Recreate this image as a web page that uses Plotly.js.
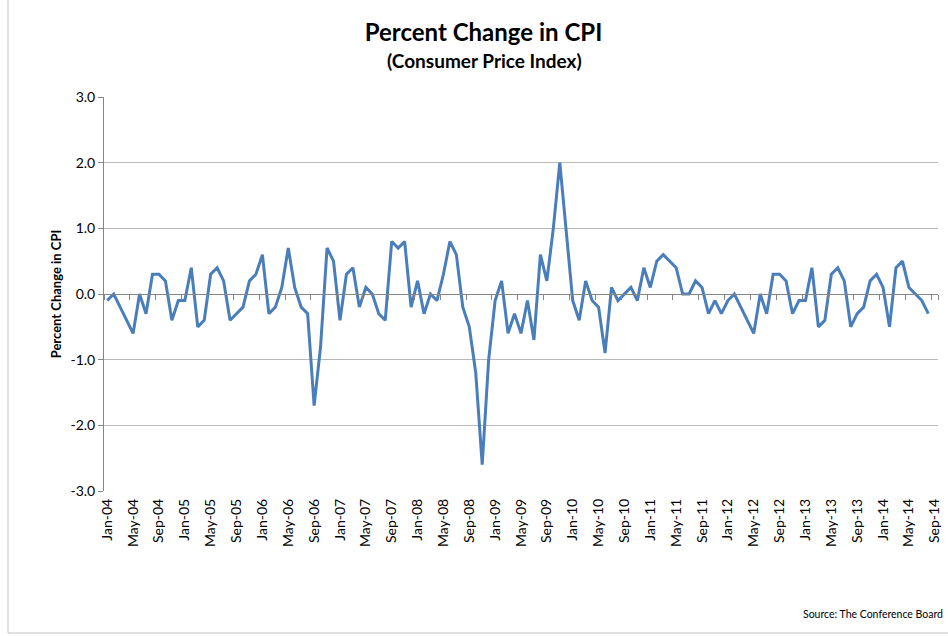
<!DOCTYPE html>
<html><head><meta charset="utf-8">
<script src="https://cdn.plot.ly/plotly-3.0.1.min.js"></script>
<style>html,body{margin:0;padding:0;background:#fff}#chart{width:948px;height:636px}</style>
</head><body><div id="chart"></div>
<script>
const monthNames = ['Jan','Feb','Mar','Apr','May','Jun','Jul','Aug','Sep','Oct','Nov','Dec'];
const years = ['04','05','06','07','08','09','10','11','12','13','14'];
const months = [];
years.forEach(y => monthNames.forEach(m => months.push(m + '-' + y)));
months.length = 129; // categories Jan-04 .. Sep-14

// monthly percent change, Jan-04 .. Aug-14 (Sep-14 category has no value)
const cpiChange = [
 -0.1, 0.0,-0.2,-0.4,-0.6, 0.0,-0.3, 0.3, 0.3, 0.2,-0.4,-0.1,
 -0.1, 0.4,-0.5,-0.4, 0.3, 0.4, 0.2,-0.4,-0.3,-0.2, 0.2, 0.3,
  0.6,-0.3,-0.2, 0.1, 0.7, 0.1,-0.2,-0.3,-1.7,-0.8, 0.7, 0.5,
 -0.4, 0.3, 0.4,-0.2, 0.1, 0.0,-0.3,-0.4, 0.8, 0.7, 0.8,-0.2,
  0.2,-0.3, 0.0,-0.1, 0.3, 0.8, 0.6,-0.2,-0.5,-1.2,-2.6,-1.0,
 -0.1, 0.2,-0.6,-0.3,-0.6,-0.1,-0.7, 0.6, 0.2, 1.0, 2.0, 0.9,
 -0.1,-0.4, 0.2,-0.1,-0.2,-0.9, 0.1,-0.1, 0.0, 0.1,-0.1, 0.4,
  0.1, 0.5, 0.6, 0.5, 0.4, 0.0, 0.0, 0.2, 0.1,-0.3,-0.1,-0.3,
 -0.1, 0.0,-0.2,-0.4,-0.6, 0.0,-0.3, 0.3, 0.3, 0.2,-0.3,-0.1,
 -0.1, 0.4,-0.5,-0.4, 0.3, 0.4, 0.2,-0.5,-0.3,-0.2, 0.2, 0.3,
  0.1,-0.5, 0.4, 0.5, 0.1, 0.0,-0.1,-0.3
];
const tickLabels = months.filter((m, i) => i % 4 === 0);
const yTickVals = [-3, -2, -1, 0, 1, 2, 3];
const yTickText = ['-3.0', '-2.0', '-1.0', '0.0', '1.0', '2.0', '3.0'];

const font = 'Lato, "Open Sans", sans-serif';
const px = v => (v - 104) / 834;   // pixel x -> paper
const py = v => (491 - v) / 394;   // pixel y -> paper

const traces = [
  {x: months, y: cpiChange, type: 'scatter', mode: 'lines',
   line: {color: '#4a7ebb', width: 3}, hoverinfo: 'x+y', showlegend: false},
  {x: months, y: cpiChange, xaxis: 'x2', type: 'scatter', mode: 'lines',
   line: {color: 'rgba(0,0,0,0)', width: 0}, hoverinfo: 'skip', showlegend: false}
];
const layout = {
  width: 948, height: 636,
  margin: {l: 104, r: 10, t: 97, b: 145},
  paper_bgcolor: '#ffffff', plot_bgcolor: '#ffffff',
  font: {family: font, size: 13, color: '#000'},
  title: {text: '<b>Percent Change in CPI</b>', font: {family: font, size: 24, color: '#000'},
          x: 0.51, xanchor: 'center', xref: 'container', y: 1 - 33/636, yref: 'container', yanchor: 'middle'},
  xaxis: {type: 'category', categoryorder: 'array', categoryarray: months,
          range: [-0.5, 128.5], tickmode: 'array', tickvals: tickLabels, ticktext: tickLabels,
          tickangle: -90, showgrid: false, showline: false, zeroline: false, ticks: '',
          ticklabelstandoff: 4,
          tickfont: {family: font, size: 14, color: '#000'}, fixedrange: true},
  xaxis2: {type: 'category', overlaying: 'x', matches: 'x', anchor: 'free', position: 0.5,
           categoryorder: 'array', categoryarray: months, range: [-0.5, 128.5],
           tickmode: 'array', tickvals: tickLabels, tickson: 'boundaries',
           showticklabels: false, ticks: 'outside', ticklen: 5, tickcolor: '#868686', tickwidth: 1,
           showline: true, linecolor: '#868686', linewidth: 1, showgrid: false, zeroline: false},
  yaxis: {range: [-3, 3], tickmode: 'array', tickvals: yTickVals, ticktext: yTickText,
          showgrid: true, gridcolor: '#b9b9b9',
          gridwidth: 1, zeroline: false, showline: true, linecolor: '#868686', linewidth: 1,
          ticks: 'outside', ticklen: 5, tickcolor: '#868686',
          tickfont: {family: font, size: 14, color: '#000'},
          title: {text: '<b>Percent Change in CPI</b>', font: {family: font, size: 13, color: '#000'}, standoff: 5},
          fixedrange: true},
  shapes: [
    {type: 'rect', xref: 'paper', yref: 'paper', x0: px(8), x1: px(962), y0: py(633), y1: py(-5),
     line: {color: '#bfbfbf', width: 1}, fillcolor: 'rgba(0,0,0,0)', layer: 'below'}
  ],
  annotations: [
    {text: '<b>(Consumer Price Index)</b>', xref: 'paper', yref: 'paper',
     x: px(484), y: py(61), xanchor: 'center', yanchor: 'middle',
     showarrow: false, font: {family: font, size: 19, color: '#000'}},
    {text: 'Source: The Conference Board', xref: 'paper', yref: 'paper',
     x: px(945), y: py(614), xanchor: 'right', yanchor: 'middle',
     showarrow: false, font: {family: font, size: 10.5, color: '#000'}}
  ]
};
Plotly.newPlot('chart', traces, layout, {displayModeBar: false, staticPlot: true});
</script></body></html>
